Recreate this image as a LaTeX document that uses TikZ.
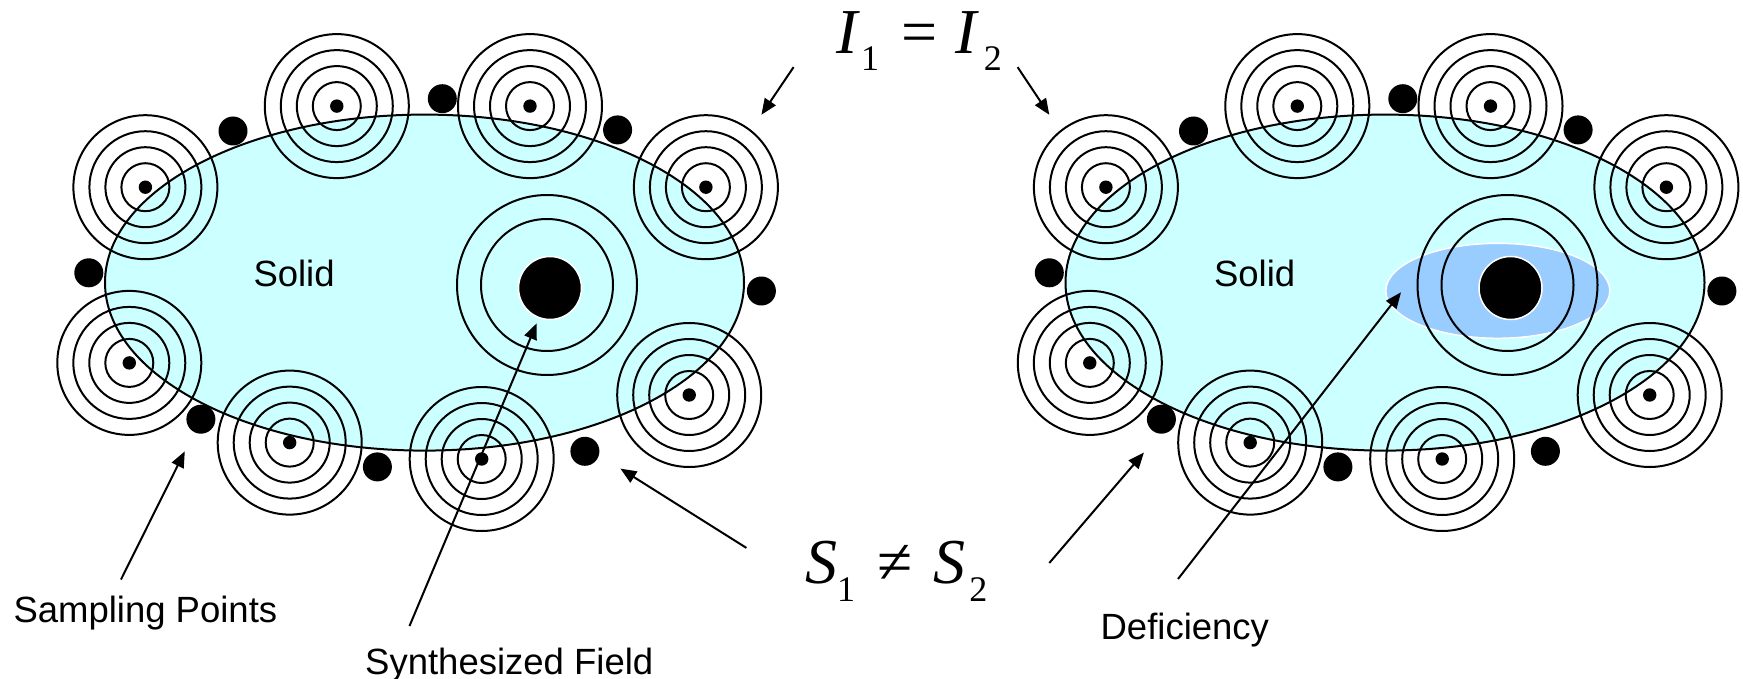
\documentclass[tikz,border=0pt]{standalone}
\usepackage{fontspec}
\setmainfont{Liberation Sans}
\newfontfamily\tms{Liberation Serif}
\usetikzlibrary{arrows.meta}
\definecolor{solidfill}{HTML}{CCFFFF}
\definecolor{deffill}{HTML}{99CCFF}
\tikzset{
  ln/.style={line width=2pt},
  sdot/.style={circle, fill=black, inner sep=0pt, minimum size=29pt},
  cdot/.style={circle, fill=black, inner sep=0pt, minimum size=13.4pt},
  bigdot/.style={circle, fill=black, draw=white, line width=1.5pt, inner sep=0pt, minimum size=63pt},
  lbl/.style={font=\fontsize{36.5}{40}\selectfont, inner sep=0pt, anchor=base west},
  mlbl/.style={font=\tms\fontsize{64}{64}\selectfont, inner sep=0pt, anchor=base west},
  arr/.style={line width=2pt, -{Triangle[length=16pt,width=13pt]}},
  ringset/.pic={\foreach \r in {24,40,56,72} {\draw[ln] (0,0) circle[radius=\r pt];}},
}
\newcommand{\subs}[1]{\raisebox{-17.7pt}{\fontsize{36}{36}\selectfont #1}}
\begin{document}
\begin{tikzpicture}[x=1pt,y=-1pt]
\useasboundingbox (0,0) rectangle (1743,679);
\foreach \p/\dx in {L/0,R/960.5} {
  \begin{scope}[xshift=\dx pt]
    \draw[ln, fill=solidfill] (424.5,282.6) ellipse[x radius=319.5pt, y radius=168pt];
    \if R\p
      \draw[fill=deffill, draw=white, line width=1.5pt] (537.3,290.8) ellipse[x radius=112pt, y radius=47.5pt];
    \fi
    \draw[ln] (547,285) circle[radius=66pt];
    \draw[ln] (547,285) circle[radius=90pt];
    \foreach \i/\x/\y in {1/145.4/187.2, 2/336.8/106.1, 3/530/106.1, 4/705.9/187.2,
                          5/129.3/362.9, 6/289.7/442.6, 7/481.7/459, 8/689.2/395} {
      \pic at (\x,\y) {ringset};
      \node[cdot] (c\p\i) at (\x,\y) {};
    }
    \foreach \i/\x/\y in {1/233/131, 2/442.3/98.7, 3/617.6/129.9, 4/88.8/272.8,
                          5/761.4/291, 6/200.9/419.2, 7/377.4/466.9, 8/584.9/451.3} {
      \node[sdot] (s\p\i) at (\x,\y) {};
    }
    \node[bigdot] (big\p) at (550,288) {};
    \node[lbl] (solid\p) at (253.3,286.7) {Solid};
  \end{scope}
}
% labels
\node[mlbl] (Ilbl) at (836,53.3) {\textit{I}\kern1pt\subs{1}\kern22pt=\kern18pt\textit{I}\kern5pt\subs{2}};
\node[mlbl] (Slbl) at (805,583.3) {\textit{S}\subs{1}\kern22pt≠\kern21pt\textit{S}\kern4pt\subs{2}};
\node[lbl] (samp) at (13.3,622.7) {Sampling Points};
\node[lbl] (synth) at (365,674.3) {Synthesized Field};
\node[lbl] (defic) at (1100.4,639.3) {Deficiency};
% arrow ends
\coordinate (tIL) at (793.6,67.1);   \coordinate (hIL) at (761.4,114.8);
\coordinate (tIR) at (1017.6,67.1);  \coordinate (hIR) at (1049.3,114.8);
\coordinate (tSL) at (746.4,547.9);  \coordinate (hSL) at (620.4,468.6);
\coordinate (tSR) at (1049.3,563);   \coordinate (hSR) at (1143.9,452.6);
\coordinate (tSP) at (121,579.5);    \coordinate (hSP) at (184.8,451.3);
\coordinate (tSF) at (409.5,626);    \coordinate (hSF) at (536.7,323.3);
\coordinate (tDF) at (1178,579);     \coordinate (hDF) at (1401,292.3);
\draw[arr] (tIL) -- (hIL);
\draw[arr] (tIR) -- (hIR);
\draw[arr] (tSL) -- (hSL);
\draw[arr] (tSR) -- (hSR);
\draw[arr] (tSP) -- (hSP);
\draw[arr] (tSF) -- (hSF);
\draw[arr] (tDF) -- (hDF);
\end{tikzpicture}
\end{document}
